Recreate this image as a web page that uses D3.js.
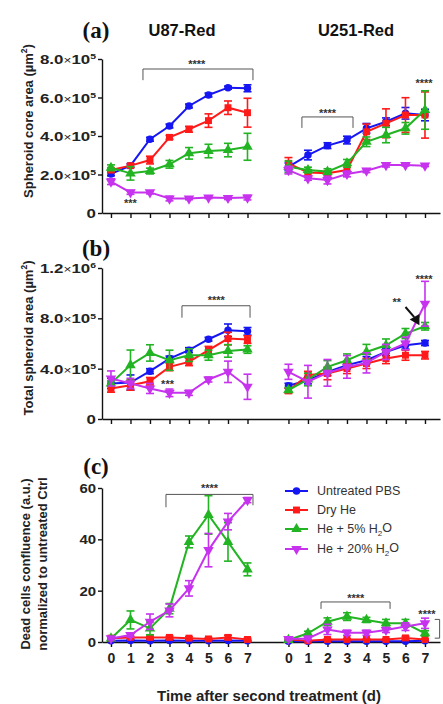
<!DOCTYPE html>
<html><head><meta charset="utf-8">
<script src="https://cdn.jsdelivr.net/npm/d3@7"></script>
<style>
body{margin:0;background:#fff}
svg{display:block}
text{font-family:"Liberation Sans",Arial,sans-serif}
</style>
</head><body>
<svg id="chart" width="443" height="704"></svg>
<script>
// ---------------- DATA ----------------
const days = [0,1,2,3,4,5,6,7];
const cellLines = ["U87-Red","U251-Red"];
const seriesNames = ["Untreated PBS","Dry He","He + 5% H2O","He + 20% H2O"];
const coreTicks = [0, 2e5, 4e5, 6e5, 8e5];
const totalTicks = [0, 4e5, 8e5, 1.2e6];
const deadTicks = [0, 20, 40, 60];

// (a) spheroid core area, µm² (rows: PBS, Dry He, 5% H2O, 20% H2O)
const coreU87 = [
  [2.03e5,2.46e5,3.83e5,4.52e5,5.56e5,6.13e5,6.51e5,6.48e5],
  [2.23e5,2.46e5,2.75e5,3.93e5,4.35e5,4.80e5,5.47e5,5.21e5],
  [2.35e5,2.06e5,2.18e5,2.53e5,3.10e5,3.22e5,3.27e5,3.44e5],
  [1.63e5,1.07e5,1.07e5,0.75e5,0.75e5,0.80e5,0.78e5,0.80e5]];
const coreU87Err = [
  [0.10e5,0.10e5,0.10e5,0.10e5,0.10e5,0.10e5,0.08e5,0.18e5],
  [0.10e5,0.10e5,0.20e5,0.10e5,0.15e5,0.35e5,0.35e5,0.75e5],
  [0.15e5,0.35e5,0.15e5,0.20e5,0.30e5,0.35e5,0.35e5,0.70e5],
  [0.15e5,0.10e5,0.08e5,0.12e5,0.06e5,0.05e5,0.08e5,0.12e5]];
const coreU251 = [
  [2.40e5,3.01e5,3.50e5,3.79e5,4.40e5,4.74e5,5.18e5,5.09e5],
  [2.58e5,2.10e5,2.06e5,2.23e5,4.22e5,4.66e5,5.09e5,5.09e5],
  [2.40e5,2.23e5,2.15e5,2.58e5,3.70e5,4.05e5,4.40e5,5.35e5],
  [2.23e5,1.80e5,1.71e5,2.03e5,2.20e5,2.49e5,2.49e5,2.46e5]];
const coreU251Err = [
  [0.20e5,0.25e5,0.15e5,0.20e5,0.25e5,0.20e5,0.30e5,0.30e5],
  [0.30e5,0.15e5,0.10e5,0.15e5,0.40e5,0.75e5,0.90e5,1.20e5],
  [0.30e5,0.15e5,0.15e5,0.20e5,0.25e5,0.40e5,0.30e5,1.00e5],
  [0.20e5,0.10e5,0.20e5,0.15e5,0.10e5,0.10e5,0.05e5,0.05e5]];

// (b) total spheroid area, µm²
const totalU87 = [
  [2.83e5,2.90e5,3.80e5,4.80e5,5.47e5,6.34e5,7.05e5,6.97e5],
  [2.43e5,2.69e5,3.00e5,4.14e5,4.54e5,5.47e5,6.39e5,6.31e5],
  [2.83e5,4.28e5,5.25e5,4.67e5,5.07e5,5.07e5,5.41e5,5.52e5],
  [3.22e5,2.83e5,2.43e5,2.08e5,2.08e5,3.14e5,3.75e5,2.56e5]];
const totalU87Err = [
  [0.40e5,0.60e5,0.20e5,0.20e5,0.20e5,0.15e5,0.50e5,0.30e5],
  [0.30e5,0.40e5,0.30e5,0.30e5,0.30e5,0.30e5,0.50e5,0.30e5],
  [0.20e5,1.20e5,0.65e5,0.80e5,0.50e5,0.40e5,0.50e5,0.30e5],
  [0.60e5,0.40e5,0.40e5,0.30e5,0.20e5,0.20e5,0.85e5,1.00e5]];
const totalU251 = [
  [2.64e5,3.09e5,3.75e5,4.28e5,4.67e5,5.33e5,5.86e5,6.04e5],
  [2.24e5,3.49e5,3.62e5,4.01e5,4.41e5,4.80e5,5.07e5,5.07e5],
  [2.30e5,3.14e5,4.14e5,4.67e5,5.33e5,5.86e5,6.79e5,7.37e5],
  [3.75e5,2.96e5,3.67e5,4.14e5,4.46e5,5.33e5,6.00e5,9.16e5]];
const totalU251Err = [
  [0.20e5,0.30e5,0.30e5,0.30e5,0.30e5,0.30e5,0.30e5,0.20e5],
  [0.20e5,0.30e5,0.50e5,0.40e5,0.40e5,0.40e5,0.40e5,0.30e5],
  [0.20e5,0.50e5,0.50e5,0.50e5,0.60e5,0.50e5,0.40e5,0.30e5],
  [0.60e5,1.30e5,1.06e5,0.90e5,0.80e5,0.60e5,0.50e5,1.78e5]];

// (c) dead cells confluence (a.u.)
const deadU87 = [
  [0.5,0.6,0.5,0.6,0.5,0.5,0.6,0.5],
  [1.5,1.8,1.8,1.8,1.5,1.2,1.8,1.0],
  [1.4,8.6,5.3,13.0,39.0,49.5,39.0,28.3],
  [1.4,2.7,7.9,12.3,20.9,35.8,46.9,55.3]];
const deadU87Err = [
  [0.3,0.3,0.3,0.3,0.3,0.3,0.3,0.3],
  [0.5,0.5,0.5,0.5,0.5,0.5,0.8,0.5],
  [0.5,3.5,2.5,2.0,2.3,7.5,7.5,2.5],
  [0.5,0.8,3.0,2.5,3.0,6.5,3.2,1.0]];
const deadU251 = [
  [0.3,0.3,0.3,0.3,0.3,0.3,0.3,0.5],
  [1.0,0.5,1.0,1.0,1.0,1.0,1.6,1.0],
  [0.8,3.4,7.9,9.9,8.6,7.3,7.3,3.4],
  [1.2,1.4,4.9,3.6,3.6,4.7,6.0,7.3]];
const deadU251Err = [
  [0.2,0.2,0.2,0.2,0.2,0.2,0.2,0.2],
  [0.3,0.3,0.3,0.3,0.3,0.3,0.6,0.3],
  [0.3,0.8,1.5,1.5,1.0,1.5,1.5,1.0],
  [0.3,0.5,2.0,1.0,1.0,1.0,1.5,2.0]];

// ---------------- STYLE / LAYOUT ----------------
const colors = ["#1616f2","#ff1a1a","#22b422","#c632ee"];
const symbols = [d3.symbolCircle, d3.symbolSquare, d3.symbolTriangle, d3.symbolTriangle];
const symSize = [44, 48, 48, 48];
const symRot = [0, 0, 0, 180];

const svg = d3.select("#chart");
const x = d3.scaleLinear().domain([-0.46, 16.87]).range([102, 440]);
const groupOffset = [0, 9.1];
const px = (g, d) => x(d + groupOffset[g]);
const tickPositions = [];
cellLines.forEach((c, g) => days.forEach(d => tickPositions.push(d + groupOffset[g])));

function fmtSci(sel, v) {
  if (v === 0) { sel.text("0"); return; }
  const e = Math.floor(Math.log10(v) + 1e-9);
  const m = v / Math.pow(10, e);
  sel.text(null);
  sel.append("tspan").text(m.toFixed(1));
  sel.append("tspan").attr("font-weight", "normal").attr("font-size", "10.5px").text("\u00d7");
  sel.append("tspan").text("10");
  sel.append("tspan").attr("font-size", "8px").attr("dy", "-0.6em").text(e);
}

const panels = [
  {label:"(a)", labelY:30, y:d3.scaleLinear().domain([0,8e5]).range([213,59]), ticks:coreTicks, sci:true,
   data:[coreU87, coreU251], err:[coreU87Err, coreU251Err], showX:false,
   ytitle:["Spheroid core area (\u00b5m|2|)"], ytitleY:121},
  {label:"(b)", labelY:248, y:d3.scaleLinear().domain([0,1.2e6]).range([419,268]), ticks:totalTicks, sci:true,
   data:[totalU87, totalU251], err:[totalU87Err, totalU251Err], showX:false,
   ytitle:["Total spheroid area (\u00b5m|2|)"], ytitleY:338},
  {label:"(c)", labelY:466, y:d3.scaleLinear().domain([0,60]).range([642,488]), ticks:deadTicks, sci:false,
   data:[deadU87, deadU251], err:[deadU87Err, deadU251Err], showX:true,
   ytitle:["Dead cells confluence (a.u.)","normalized to untreated Ctrl"], ytitleY:564}
];

panels.forEach((p) => {
  const g = svg.append("g");
  const y = p.y;
  // y axis
  const ya = g.append("g").attr("transform", `translate(${x(-0.46)},0)`)
    .call(d3.axisLeft(y).tickValues(p.ticks).tickSize(4).tickSizeOuter(0).tickPadding(2).tickFormat(""));
  ya.selectAll("path,line").attr("stroke", "#111").attr("stroke-width", 1.4);
  ya.selectAll(".tick").each(function(v) {
    const t = d3.select(this).select("text")
      .attr("x", 0).attr("transform", p.sci ? "translate(-6,0) scale(1.3,1)" : "translate(-6,0) scale(1.15,1)")
      .attr("font-size", "13px").attr("font-weight", "bold").attr("fill", "#222")
      .attr("dy", "0.35em");
    if (p.sci) fmtSci(t, v); else t.text(v);
  });
  // x axis
  const xa = g.append("g").attr("transform", `translate(0,${y(0)})`)
    .call(d3.axisBottom(x).tickValues(tickPositions).tickSize(5).tickSizeOuter(0).tickPadding(6)
      .tickFormat(v => p.showX ? String(Math.round(v - (v > 8 ? groupOffset[1] : 0))) : ""));
  xa.selectAll("path,line").attr("stroke", "#111").attr("stroke-width", 1.4);
  xa.selectAll("text").attr("font-size", "14px").attr("font-weight", "bold").attr("fill", "#222");

  // panel label
  g.append("text").attr("x", 96).attr("y", p.labelY).attr("text-anchor", "middle")
    .style("font-family", "'Liberation Serif','Times New Roman',serif")
    .attr("font-size", "23px").attr("font-weight", "bold").attr("fill", "#111")
    .attr("dy", "0.35em").text(p.label);

  // y title
  const n = p.ytitle.length;
  p.ytitle.forEach((line, i) => {
    const cx = n === 1 ? 28 : 25 + i * 17;
    const t = g.append("text").attr("transform", `translate(${cx},${p.ytitleY}) rotate(-90)`)
      .attr("text-anchor", "middle").attr("dy", "0.35em")
      .attr("font-size", "13px").attr("font-weight", "bold").attr("fill", "#222");
    const parts = line.split("|");
    t.append("tspan").text(parts[0]);
    if (parts.length > 1) {
      t.append("tspan").attr("font-size", "8.5px").attr("dy", "-0.6em").text(parts[1]);
      t.append("tspan").attr("dy", "0.35em").text(parts[2]);
    }
  });

  // series
  p.data.forEach((groupData, gi) => {
    groupData.forEach((vals, si) => {
      const errs = p.err[gi][si];
      const sg = g.append("g");
      const line = d3.line().x((v, i) => px(gi, days[i])).y(v => y(v));
      sg.append("path").attr("d", line(vals)).attr("fill", "none")
        .attr("stroke", colors[si]).attr("stroke-width", 2);
      vals.forEach((v, i) => {
        const cx = px(gi, days[i]);
        const y1 = y(Math.max(0, v - errs[i])), y2 = y(v + errs[i]);
        sg.append("line").attr("x1", cx).attr("x2", cx).attr("y1", y1).attr("y2", y2)
          .attr("stroke", colors[si]).attr("stroke-width", 1.6);
        [y1, y2].forEach(yy => sg.append("line").attr("x1", cx - 4).attr("x2", cx + 4)
          .attr("y1", yy).attr("y2", yy).attr("stroke", colors[si]).attr("stroke-width", 1.6));
        sg.append("path").attr("d", d3.symbol().type(symbols[si]).size(symSize[si])())
          .attr("transform", `translate(${cx},${y(v)}) rotate(${symRot[si]})`)
          .attr("fill", colors[si]);
      });
    });
  });
});

// titles
svg.append("text").attr("x", 182).attr("y", 30).attr("text-anchor", "middle").attr("dy", "0.35em")
  .attr("font-size", "16.5px").attr("font-weight", "bold").attr("fill", "#111").text(cellLines[0]);
svg.append("text").attr("x", 356).attr("y", 30).attr("text-anchor", "middle").attr("dy", "0.35em")
  .attr("font-size", "16.5px").attr("font-weight", "bold").attr("fill", "#111").text(cellLines[1]);

// x title
svg.append("text").attr("x", 269).attr("y", 696).attr("text-anchor", "middle").attr("dy", "0.35em")
  .attr("font-size", "15px").attr("font-weight", "bold").attr("fill", "#222").text("Time after second treatment (d)");

// ---------------- annotations ----------------
const ann = svg.append("g").attr("fill", "none").attr("stroke", "#555").attr("stroke-width", 1);
function bracket(x1, x2, yTop, yL, yR) {
  ann.append("path").attr("d", `M${x1},${yL}V${yTop}H${x2}V${yR}`);
}
function stars(cx, cy, s) {
  svg.append("text").attr("x", cx).attr("y", cy + 5).attr("text-anchor", "middle")
    .attr("font-size", "11px").attr("font-weight", "bold").attr("fill", "#333").text(s);
}
const [pa, pb, pc] = panels;
// (a)
bracket(px(0,1.64), px(0,7.28), pa.y(7.48e5), pa.y(6.9e5), pa.y(6.9e5));
stars(px(0,4.4), pa.y(7.8e5), "****");
stars(px(0,1.0), pa.y(0.58e5), "***");
bracket(px(1,0.69), px(1,3.31), pa.y(4.99e5), pa.y(4.42e5), pa.y(4.42e5));
stars(px(1,2.0), pa.y(5.26e5), "****");
stars(px(1,6.95), pa.y(6.8e5), "****");
// (b)
bracket(px(0,3.64), px(0,7.13), pb.y(9.0e5), pb.y(8.05e5), pb.y(8.05e5));
stars(px(0,5.4), pb.y(9.5e5), "****");
stars(px(0,2.9), pb.y(2.85e5), "***");
stars(px(1,5.55), pb.y(9.4e5), "**");
stars(px(1,6.95), pb.y(1.12e6), "****");
svg.append("line").attr("x1", px(1,6.0)).attr("y1", pb.y(8.9e5)).attr("x2", px(1,6.45)).attr("y2", pb.y(8.1e5))
  .attr("stroke", "#111").attr("stroke-width", 2);
svg.append("path").attr("d", d3.symbol().type(d3.symbolTriangle).size(55)())
  .attr("transform", `translate(${px(1,6.55)},${pb.y(7.9e5)}) rotate(150)`).attr("fill", "#111");
// (c)
bracket(px(0,2.82), px(0,7.28), pc.y(57.5), pc.y(52.5), pc.y(53.3));
stars(px(0,5.05), pc.y(60.5), "****");
bracket(px(1,1.67), px(1,5.21), pc.y(15.6), pc.y(12.9), pc.y(12.9));
stars(px(1,3.45), pc.y(17.5), "****");
stars(px(1,7.1), pc.y(11.2), "****");
ann.append("path").attr("d", `M${x(16.6)},${pc.y(8.8)}H${x(16.85)}V${pc.y(1.5)}H${x(16.6)}`);

// ---------------- legend ----------------
const lg = svg.append("g");
const legY = [491, 510, 529, 549];
seriesNames.forEach((name, i) => {
  const yy = legY[i];
  lg.append("line").attr("x1", 285).attr("x2", 308).attr("y1", yy).attr("y2", yy)
    .attr("stroke", colors[i]).attr("stroke-width", 2);
  lg.append("path").attr("d", d3.symbol().type(symbols[i]).size(symSize[i])())
    .attr("transform", `translate(296.5,${yy}) rotate(${symRot[i]})`).attr("fill", colors[i]);
  const t = lg.append("text").attr("x", 317).attr("y", yy).attr("dy", "0.35em")
    .attr("font-size", "12.5px").attr("fill", "#333");
  const m = name.match(/^(.*H)2(O)$/);
  if (m) {
    t.append("tspan").text(m[1]);
    t.append("tspan").attr("font-size", "8px").attr("dy", "0.3em").text("2");
    t.append("tspan").attr("dy", "-0.3em").text(m[2]);
  } else t.text(name);
});
</script>
</body></html>
